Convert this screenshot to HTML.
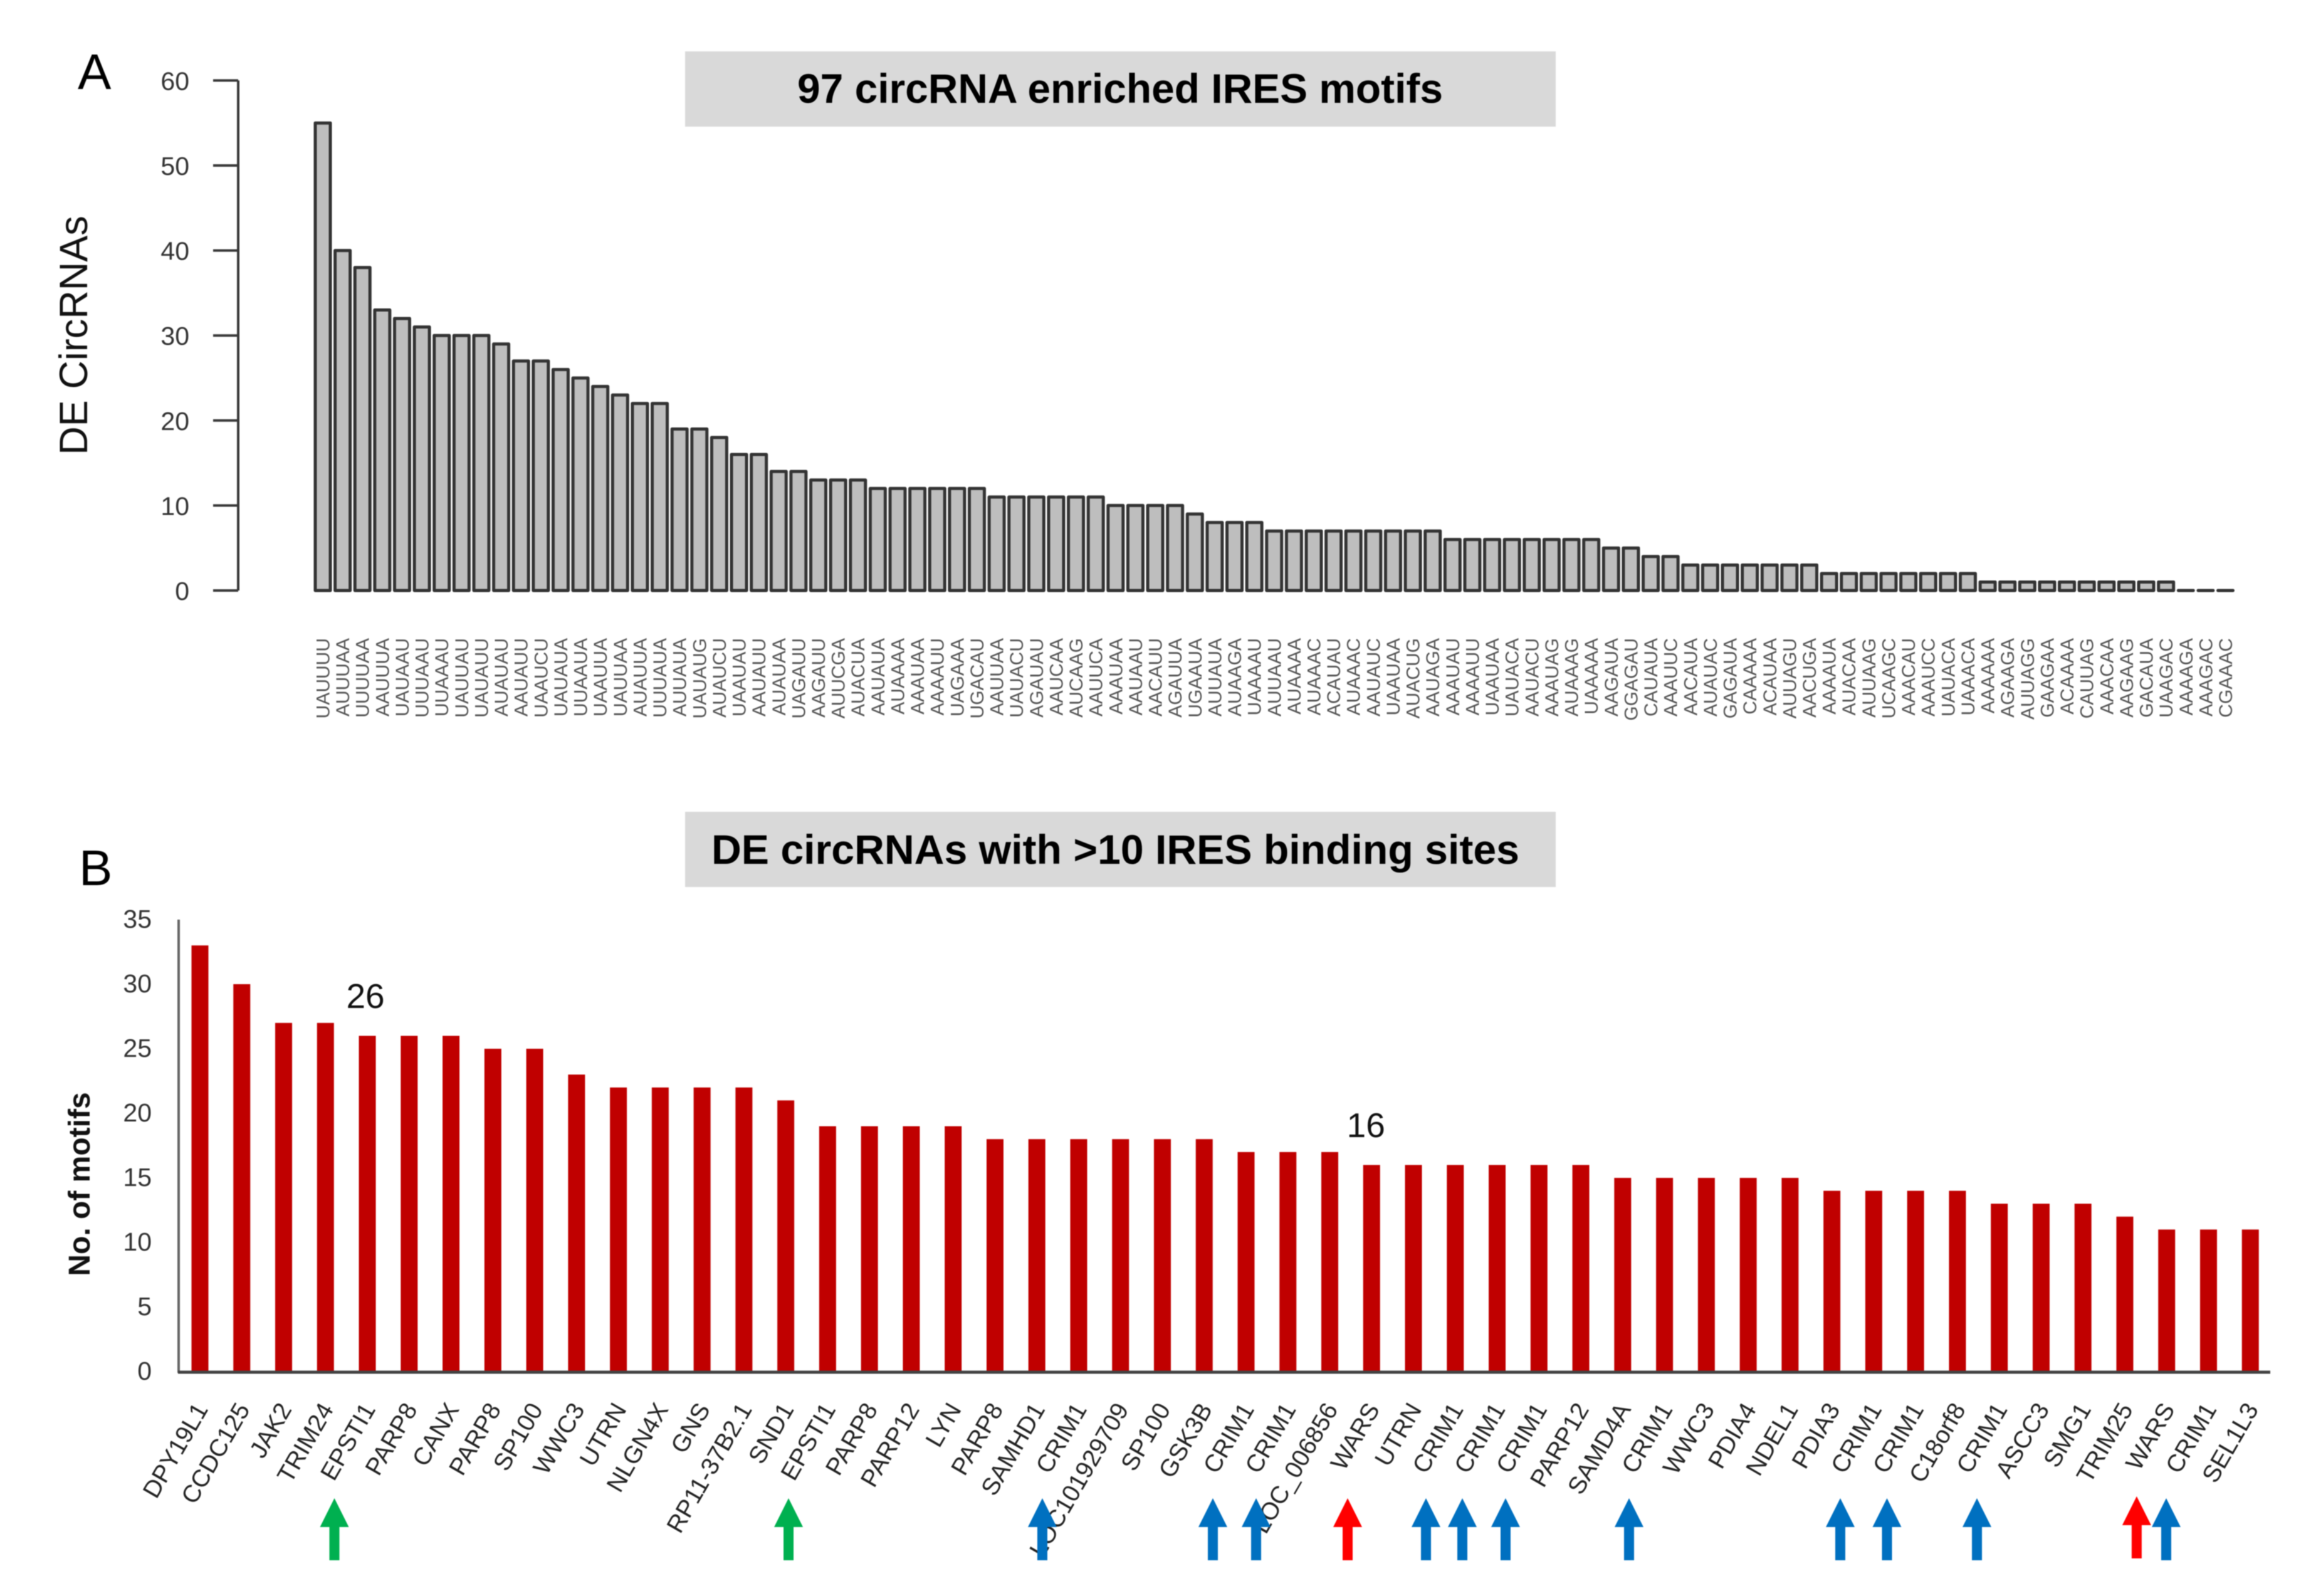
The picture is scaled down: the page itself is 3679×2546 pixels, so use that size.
<!DOCTYPE html>
<html lang="en">
<head>
<meta charset="utf-8">
<title>97 circRNA enriched IRES motifs</title>
<style>
html,body{margin:0;padding:0;background:#fff;width:3679px;height:2546px;overflow:hidden}
svg{display:block;filter:blur(0.7px)}
text{font-family:"Liberation Sans",sans-serif}
</style>
</head>
<body>
<svg id="figure" xmlns="http://www.w3.org/2000/svg" width="3679" height="2546" viewBox="0 0 3679 2546">
  <rect x="0" y="0" width="3679" height="2546" fill="#ffffff"/>
  <text x="124" y="142" font-size="80" fill="#000">A</text>
  <rect x="1093" y="82" width="1389" height="120" fill="#d9d9d9"/>
  <text x="1272" y="164" font-size="66" font-weight="700" fill="#000" textLength="1030" lengthAdjust="spacingAndGlyphs">97 circRNA enriched IRES motifs</text>
  <text transform="translate(139,535) rotate(-90)" text-anchor="middle" font-size="63" fill="#111">DE CircRNAs</text>
  <g id="chartA"></g>

  <text x="126" y="1412" font-size="80" fill="#000">B</text>
  <rect x="1093" y="1295" width="1389" height="120" fill="#d9d9d9"/>
  <text x="1135" y="1378" font-size="66" font-weight="700" fill="#000" textLength="1289" lengthAdjust="spacingAndGlyphs">DE circRNAs with &gt;10 IRES binding sites</text>
  <text transform="translate(143,1889) rotate(-90)" text-anchor="middle" font-size="48" font-weight="700" fill="#111">No. of motifs</text>
  <g id="chartB"></g>
  <g id="arrows"></g>
</svg>
<script>
const motifLabels = [
"UAUUUU","AUUUAA","UUUUAA","AAUUUA","UAUAAU","UUUAAU","UUAAAU","UAUUAU","UAUAUU","AUAUAU",
"AAUAUU","UAAUCU","UAUAUA","UUAAUA","UAAUUA","UAUUAA","AUAUUA","UUUAUA","AUUAUA","UAUAUG",
"AUAUCU","UAAUAU","AAUAUU","AUAUAA","UAGAUU","AAGAUU","AUUCGA","AUACUA","AAUAUA","AUAAAA",
"AAAUAA","AAAAUU","UAGAAA","UGACAU","AAUUAA","UAUACU","AGAUAU","AAUCAA","AUCAAG","AAUUCA",
"AAAUAA","AAUAAU","AACAUU","AGAUUA","UGAAUA","AUUAUA","AUAAGA","UAAAAU","AUUAAU","AUAAAA",
"AUAAAC","ACAUAU","AUAAAC","AAUAUC","UAAUAA","AUACUG","AAUAGA","AAAUAU","AAAAUU","UAAUAA",
"UAUACA","AAUACU","AAAUAG","AUAAAG","UAAAAA","AAGAUA","GGAGAU","CAUAUA","AAAUUC","AACAUA",
"AUAUAC","GAGAUA","CAAAAA","ACAUAA","AUUAGU","AACUGA","AAAAUA","AUACAA","AUUAAG","UCAAGC",
"AAACAU","AAAUCC","UAUACA","UAAACA","AAAAAA","AGAAGA","AUUAGG","GAAGAA","ACAAAA","CAUUAG",
"AAACAA","AAGAAG","GACAUA","UAAGAC","AAAAGA","AAAGAC","CGAAAC"];
const motifValues = [
55,40,38,33,32,31,30,30,30,29,
27,27,26,25,24,23,22,22,19,19,
18,16,16,14,14,13,13,13,12,12,
12,12,12,12,11,11,11,11,11,11,
10,10,10,10,9,8,8,8,7,7,
7,7,7,7,7,7,7,6,6,6,
6,6,6,6,6,5,5,4,4,3,
3,3,3,3,3,3,2,2,2,2,
2,2,2,2,1,1,1,1,1,1,
1,1,1,1,0,0,0];
const motifTicks = [0,10,20,30,40,50,60];

const geneLabels = [
"DPY19L1","CCDC125","JAK2","TRIM24","EPSTI1","PARP8","CANX","PARP8","SP100","WWC3",
"UTRN","NLGN4X","GNS","RP11-37B2.1","SND1","EPSTI1","PARP8","PARP12","LYN","PARP8",
"SAMHD1","CRIM1","LOC101929709","SP100","GSK3B","CRIM1","CRIM1","LOC_006856","WARS","UTRN",
"CRIM1","CRIM1","CRIM1","PARP12","SAMD4A","CRIM1","WWC3","PDIA4","NDEL1","PDIA3",
"CRIM1","CRIM1","C18orf8","CRIM1","ASCC3","SMG1","TRIM25","WARS","CRIM1","SEL1L3"];
const geneValues = [
33,30,27,27,26,26,26,25,25,23,
22,22,22,22,21,19,19,19,19,18,
18,18,18,18,18,17,17,17,16,16,
16,16,16,16,15,15,15,15,15,14,
14,14,14,13,13,13,12,11,11,11];
const geneTicks = [0,5,10,15,20,25,30,35];
const calloutValues = [26,16];

const NS = "http://www.w3.org/2000/svg";
function node(parent, tag, attrs, txt){
  const el = document.createElementNS(NS, tag);
  for (const k in attrs) el.setAttribute(k, attrs[k]);
  if (txt !== undefined) el.textContent = txt;
  parent.appendChild(el);
  return el;
}

/* ---------- Panel A ---------- */
const chartA = document.getElementById("chartA");
const yA = v => 942 - v * 13.56;
const xA = i => 515 + i * 31.62;

const axisA = node(chartA, "line", {x1:380,x2:380,y1:yA(60),y2:yA(0),stroke:"#3a3a3a","stroke-width":4});


motifTicks.forEach(t => {
  const tick = node(chartA, "line", {x1:340,x2:380,y1:yA(t),y2:yA(t),stroke:"#3a3a3a","stroke-width":4});
  
  
  const lab = node(chartA, "text", {x:302,y:yA(t)+15,"text-anchor":"end","font-size":41,fill:"#333"}, String(t));
  
  
});
motifValues.forEach((v,i) => {
  const l = xA(i) - 12, r = xA(i) + 12, t = yA(v), b = yA(0);
  const bar = node(chartA, "path", {d:`M${l} ${b}L${l} ${t}L${r} ${t}L${r} ${b}Z`,fill:"#bebebe",stroke:"#333","stroke-width":5,"stroke-linejoin":"round"});
  
  
});
motifLabels.forEach((m,i) => {
  const lab = node(chartA, "text", {transform:`translate(${xA(i)+10.5},1018) rotate(-90)`,"text-anchor":"end","font-size":30,fill:"#555"}, m);
  
  
});

/* ---------- Panel B ---------- */
const chartB = document.getElementById("chartB");
const yB = v => 2188 - v * 20.6;
const xB = i => 319 + i * 66.76;

geneValues.forEach((v,i) => {
  const bar = node(chartB, "rect", {x:xB(i)-13.5,y:yB(v),width:27,height:yB(0)-yB(v),fill:"#c00000"});
  
  
});
const axisBy = node(chartB, "line", {x1:285,x2:285,y1:1467,y2:2190,stroke:"#666","stroke-width":4});


const axisBx = node(chartB, "line", {x1:284,x2:3622,y1:2189,y2:2189,stroke:"#444","stroke-width":5});


geneTicks.forEach(t => {
  const lab = node(chartB, "text", {x:242,y:yB(t)+13,"text-anchor":"end","font-size":41,fill:"#333"}, String(t));
  
  
});
geneLabels.forEach((g,i) => {
  const lab = node(chartB, "text", {transform:`translate(${xB(i)+14},2248) rotate(-60)`,"text-anchor":"end","font-size":39,fill:"#222"}, g);
  
  
});
const callout1 = node(chartB, "text", {x:xB(4)-3,y:1608,"text-anchor":"middle","font-size":55,fill:"#111"}, String(calloutValues[0]));


const callout2 = node(chartB, "text", {x:xB(28)-9,y:1814,"text-anchor":"middle","font-size":55,fill:"#111"}, String(calloutValues[1]));



/* ---------- Arrows (placed on the gene axis, fractional category positions) ---------- */
const arrowsG = document.getElementById("arrows");
const arrowGreen = [3.213,14.066];
const arrowBlue = [20.131,24.206,25.240,29.299,30.168,31.201,34.152,39.200,40.316,42.466,46.989];
const arrowRed = [27.427,46.283];
function arrowAt(idx, color, name, lift){
  const cx = xB(idx);
  const top = 2390 - lift, headBase = 2436 - lift, bottom = 2489 - lift, hw = 23, sw = 8;
  const p = node(arrowsG, "polygon", {
    points:`${cx},${top} ${cx+hw},${headBase} ${cx+sw},${headBase} ${cx+sw},${bottom} ${cx-sw},${bottom} ${cx-sw},${headBase} ${cx-hw},${headBase}`,
    fill:color});
  
  
}
arrowGreen.forEach(i => arrowAt(i, "#00b050", "green-arrow", 0));
arrowRed.forEach((i,n) => arrowAt(i, "#ff0000", "red-arrow", n === 1 ? 3 : 0));
arrowBlue.forEach(i => arrowAt(i, "#0070c0", "blue-arrow", 0));
</script>
</body>
</html>
